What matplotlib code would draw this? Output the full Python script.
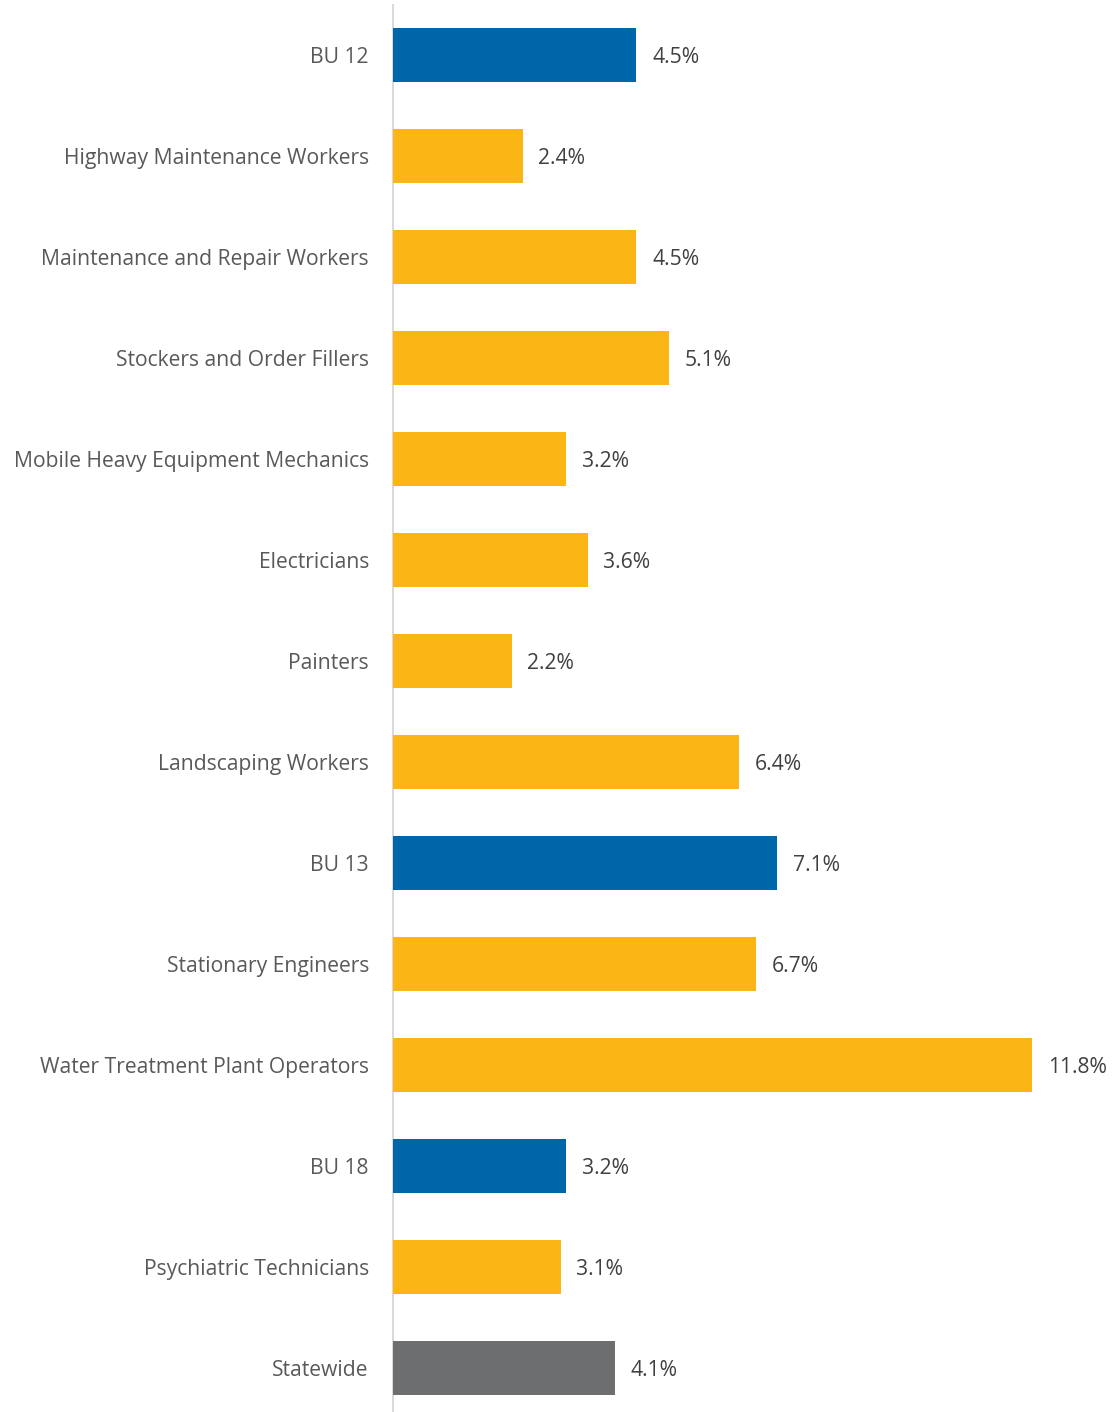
import matplotlib
matplotlib.use("Agg")
import matplotlib.pyplot as plt

categories = ["BU 12", "Highway Maintenance Workers", "Maintenance and Repair Workers",
              "Stockers and Order Fillers", "Mobile Heavy Equipment Mechanics", "Electricians",
              "Painters", "Landscaping Workers", "BU 13", "Stationary Engineers",
              "Water Treatment Plant Operators", "BU 18", "Psychiatric Technicians", "Statewide"]
values = [4.5, 2.4, 4.5, 5.1, 3.2, 3.6, 2.2, 6.4, 7.1, 6.7, 11.8, 3.2, 3.1, 4.1]
kinds = ["bu", "occ", "occ", "occ", "occ", "occ", "occ", "occ", "bu", "occ", "occ", "bu", "occ", "state"]
palette = {"bu": "#0066AA", "occ": "#FBB514", "state": "#6D6E70"}

plt.rcParams['font.family'] = ['Open Sans', 'DejaVu Sans']
fig = plt.figure(figsize=(11.12, 14.12), dpi=100)
left_px = 392.5
ax = fig.add_axes([left_px/1112, 0, 1 - left_px/1112, 1407/1412])

y = list(range(len(categories)))
ax.barh(y, values, height=0.535, color=[palette[k] for k in kinds], zorder=2)
ax.set_ylim(13.436, -0.5)
ax.set_xlim(0, (1112 - left_px)/54.2)

for yi, v in zip(y, values):
    ax.text(v + 0.29, yi, f"{v:.1f}%", va="center_baseline", ha="left", fontsize=15.2, color="#404040")

ax.set_yticks(y)
ax.set_yticklabels(categories, fontsize=15.2, color="#595959")
ax.tick_params(axis="y", length=0, pad=17)
ax.set_xticks([])
for s in ["top", "right", "bottom"]:
    ax.spines[s].set_visible(False)
ax.spines["left"].set_color("#D9D9D9")
ax.spines["left"].set_linewidth(1.4)
ax.spines["left"].set_zorder(1)

fig.savefig("out.png", dpi=100)
